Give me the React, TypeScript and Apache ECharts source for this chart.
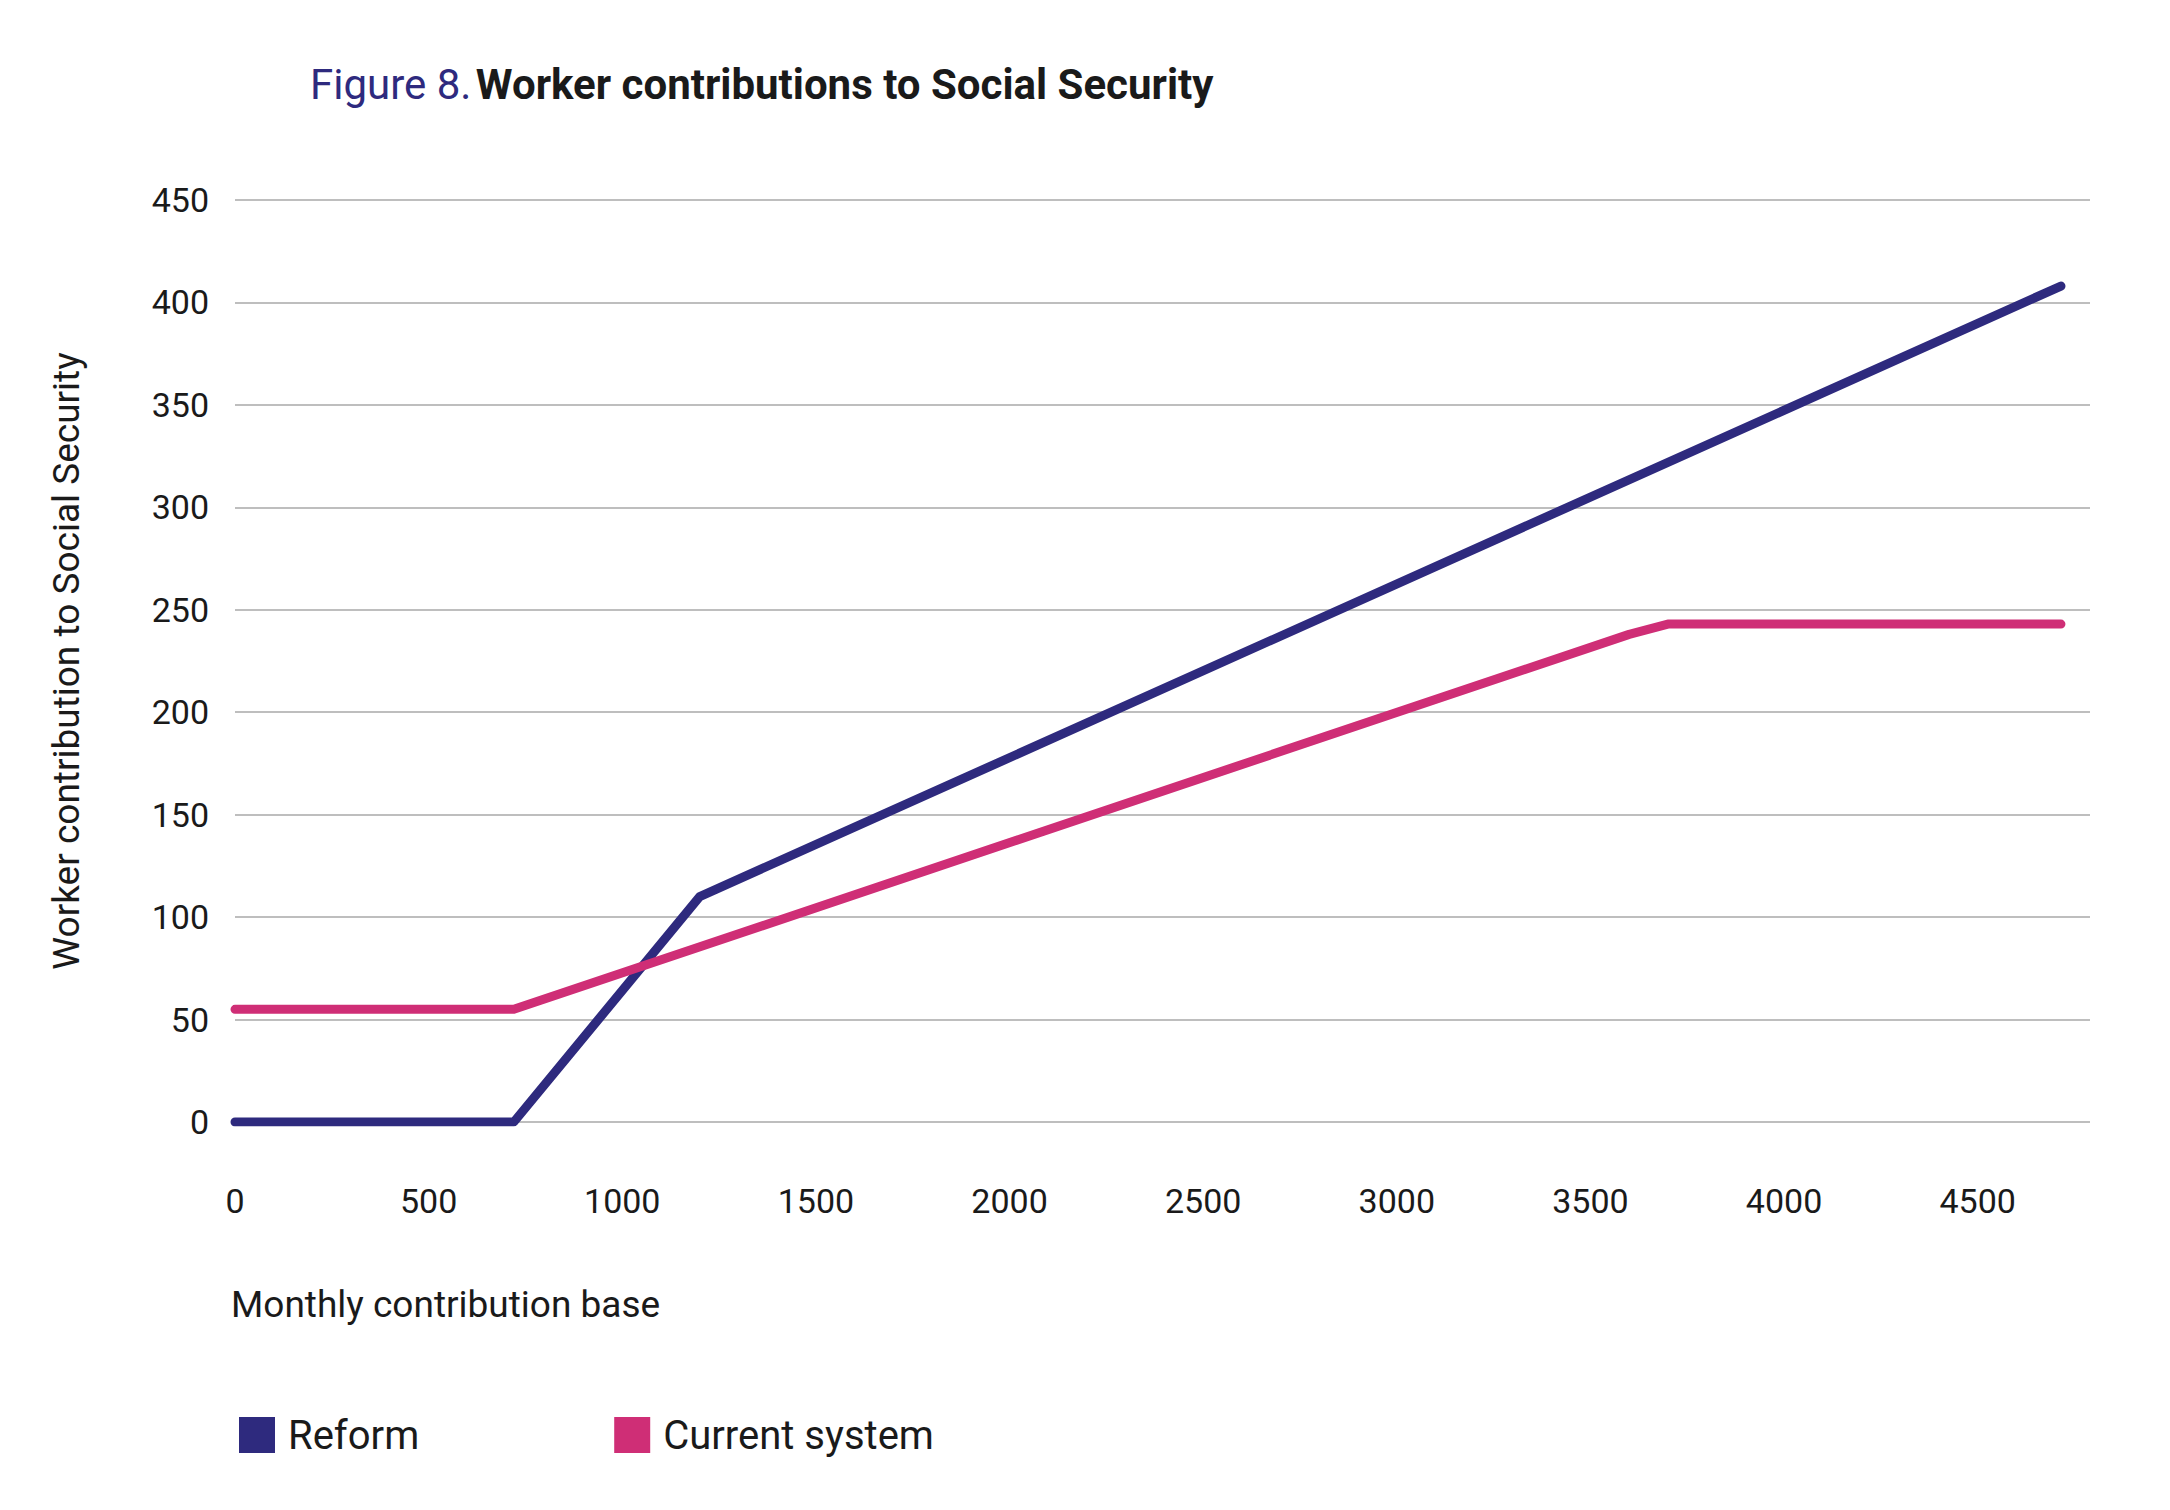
import { useEffect, useRef } from "react";
import * as echarts from "echarts";

const reformPoints: [number, number][] = [[0, 0], [720, 0], [1200, 110], [4715, 408]];
const currentPoints: [number, number][] = [[0, 55], [720, 55], [3600, 238], [3700, 243], [4715, 243]];
const seriesNames = ["Reform", "Current system"];
const seriesColors = ["#2e2a7e", "#cf2e76"];

const FONT = "Roboto, 'Liberation Sans', sans-serif";

export default function App() {
  const ref = useRef<HTMLDivElement>(null);

  useEffect(() => {
    if (!ref.current) return;
    const chart = echarts.init(ref.current, undefined, { renderer: "svg" });
    chart.setOption({
      animation: false,
      backgroundColor: "#fff",
      textStyle: { fontFamily: FONT },
      title: {
        left: 305, top: 58,
        text: "{a|Figure 8.} {b|Worker contributions to Social Security}",
        textStyle: {
          rich: {
            a: { fontSize: 42, color: "#2e2a7e", fontWeight: "normal", fontFamily: FONT },
            b: { fontSize: 42, color: "#1a1a1a", fontWeight: "bold", fontFamily: FONT },
          },
        },
      },
      legend: {
        left: 234, top: 1410, icon: "rect", itemWidth: 36, itemHeight: 36, itemGap: 195,
        textStyle: { fontSize: 40, color: "#1a1a1a", padding: [0, 0, 0, 8] },
        data: seriesNames,
      },
      grid: { left: 235, top: 200, height: 922, right: 80 },
      xAxis: {
        type: "value", min: 0, max: 4790, interval: 500,
        axisLine: { show: false }, axisTick: { show: false }, splitLine: { show: false },
        axisLabel: { fontSize: 34, color: "#1a1a1a", margin: 62, showMaxLabel: false, formatter: (v: number) => String(v) },
      },
      yAxis: {
        type: "value", min: 0, max: 450, interval: 50,
        name: "Worker contribution to Social Security", nameLocation: "middle", nameGap: 150,
        nameTextStyle: { fontSize: 37, color: "#1a1a1a" },
        axisLine: { show: false }, axisTick: { show: false },
        splitLine: { lineStyle: { color: "#a8a8a8", width: 1.5 } },
        axisLabel: { fontSize: 34, color: "#1a1a1a", margin: 26 },
      },
      graphic: [{
        type: "text", left: 231, top: 1286,
        style: { text: "Monthly contribution base", fontSize: 37, fill: "#1a1a1a", fontFamily: FONT },
      }],
      series: [
        { name: seriesNames[0], type: "line", data: reformPoints, symbol: "none", color: seriesColors[0],
          lineStyle: { width: 9, cap: "round", join: "round" } },
        { name: seriesNames[1], type: "line", data: currentPoints, symbol: "none", color: seriesColors[1],
          lineStyle: { width: 9, cap: "round", join: "round" } },
      ],
    });
    return () => chart.dispose();
  }, []);

  return <div ref={ref} style={{ position: "fixed", left: 0, top: 0, width: 2170, height: 1510 }} />;
}
